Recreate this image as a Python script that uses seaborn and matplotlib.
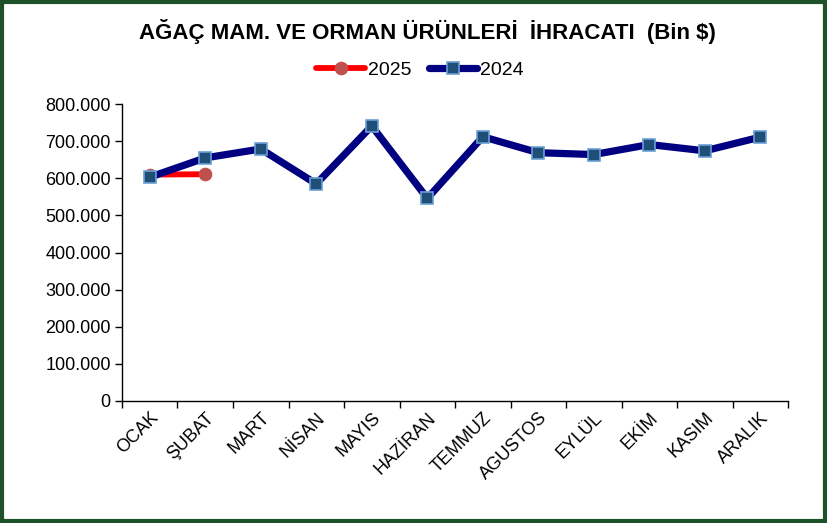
import numpy as np
import pandas as pd
import matplotlib
matplotlib.use("Agg")
import matplotlib.pyplot as plt
import seaborn as sns
from matplotlib.ticker import FuncFormatter, FixedLocator
from matplotlib.patches import Rectangle

months = ["OCAK", "ŞUBAT", "MART", "NİSAN", "MAYIS", "HAZİRAN", "TEMMUZ",
          "AGUSTOS", "EYLÜL", "EKİM", "KASIM", "ARALIK"]
vals_2024 = [603000, 655000, 679000, 585000, 741000, 546000, 712000,
             669000, 664000, 691000, 674000, 711000]
vals_2025 = [610000, 611000]
title = "AĞAÇ MAM. VE ORMAN ÜRÜNLERİ  İHRACATI  (Bin $)"

sns.set_theme(style="white")
plt.rcParams['font.family'] = ['Liberation Sans', 'DejaVu Sans']
plt.rcParams['text.color'] = 'black'

fig = plt.figure(figsize=(8.27, 5.23), dpi=100)
ax = fig.add_axes([0.1475, 0.2333, 0.8055, 0.5677])

df24 = pd.DataFrame({"x": np.arange(len(vals_2024)), "y": vals_2024})
df25 = pd.DataFrame({"x": np.arange(len(vals_2025)), "y": vals_2025})

sns.lineplot(data=df25, x="x", y="y", ax=ax, color="#ff0000", linewidth=4.2,
             marker="o", markersize=9, markerfacecolor="#c0504d",
             markeredgecolor="#c0504d", markeredgewidth=0.8, label="2025", zorder=3)
sns.lineplot(data=df24, x="x", y="y", ax=ax, color="#000080", linewidth=5.2,
             marker="s", markersize=8, markerfacecolor="#1f4e79",
             markeredgecolor="#6a9fd4", markeredgewidth=1.2, label="2024", zorder=4)

ax.set_xlim(-0.5, len(months) - 0.5)
ax.set_ylim(0, 800000)
ax.set_yticks(np.arange(0, 800001, 100000))
ax.yaxis.set_major_formatter(FuncFormatter(
    lambda v, p: "0" if v == 0 else f"{int(v):,}".replace(",", ".")))

ax.xaxis.set_major_locator(FixedLocator(np.arange(-0.5, len(months), 1.0)))
ax.xaxis.set_major_formatter(FuncFormatter(lambda v, p: ""))
ax.xaxis.set_minor_locator(FixedLocator(np.arange(len(months))))
ax.set_xticklabels(months, minor=True, rotation=45, ha="right",
                   rotation_mode="anchor", fontsize=13, color="#000000")
ax.tick_params(axis="x", which="minor", length=0, pad=6)
ax.tick_params(axis="x", which="major", length=5, width=1, color="black",
               direction="out", bottom=True)
ax.tick_params(axis="y", length=5, width=1, color="black", direction="out",
               left=True, labelsize=13, labelcolor="black", pad=3)
ax.set_xlabel("")
ax.set_ylabel("")
for s in ["top", "right"]:
    ax.spines[s].set_visible(False)
for s in ["left", "bottom"]:
    ax.spines[s].set_color("black")
    ax.spines[s].set_linewidth(1.0)
ax.grid(False)

fig.text(0.517, 0.939, title, ha="center", va="center", fontsize=16,
         fontweight="bold", color="black")

handles, labels = ax.get_legend_handles_labels()
ax.get_legend().remove()
leg = fig.legend(handles, labels, loc="center", bbox_to_anchor=(0.508, 0.866),
                 ncol=2, frameon=False, handlelength=2.5, handletextpad=0.15,
                 columnspacing=0.9, prop={"size": 14})
for t in leg.get_texts():
    t.set_color("black")

fig.patches.append(Rectangle((0.002, 0.003), 0.996, 0.994, transform=fig.transFigure,
                             fill=False, edgecolor="#1e5128", linewidth=3))

fig.savefig("out.png", dpi=100)
